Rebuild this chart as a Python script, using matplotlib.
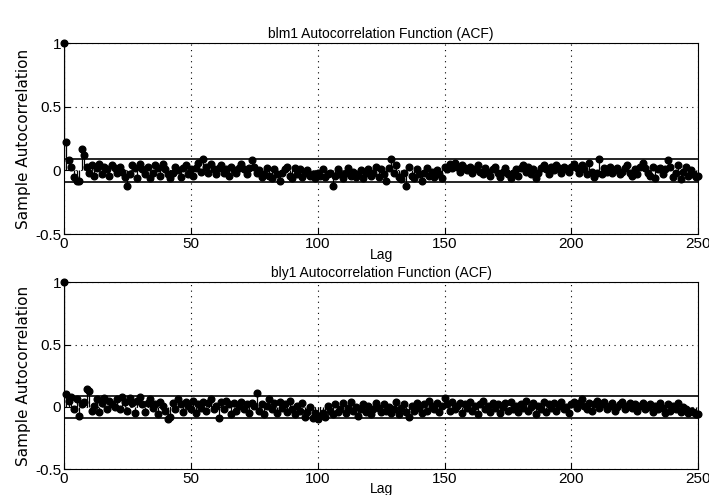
import matplotlib
matplotlib.use("Agg")
import numpy as np
from matplotlib import pyplot as plt

# ACF values, lag 0..250
blm1_acf = [
    1, 0.22, 0.08, 0.03, -0.05, -0.08, -0.08, 0.17, 0.12, 0.03,
    -0.02, 0.04, -0.04, 0.02, 0.05, -0.03, 0.03, 0.01, -0.04, 0.04,
    0.02, -0.02, 0.03, -0.01, -0.05, -0.12, -0.03, 0.04, 0.02, -0.06,
    0.05, 0.01, -0.03, 0.03, -0.06, -0.02, 0.04, 0.02, -0.04, 0.05,
    0.01, -0.03, -0.06, -0.02, 0.03, 0.0, -0.05, 0.02, 0.04, -0.03,
    0.01, -0.04, 0.02, 0.06, -0.01, 0.09, 0.03, -0.02, 0.05, 0.01,
    -0.03, 0.02, 0.04, -0.02, 0.01, -0.04, 0.03, 0.0, -0.02, 0.02,
    0.05, 0.01, -0.03, 0.02, 0.08, 0.03, -0.02, 0.0, -0.05, -0.03,
    0.02, -0.04, -0.06, 0.01, -0.03, -0.08, -0.02, 0.01, 0.03, -0.04,
    -0.06, 0.02, -0.03, 0.01, -0.05, -0.02, 0.0, -0.04, -0.03, -0.06,
    -0.02, -0.04, 0.01, -0.05, -0.03, -0.02, -0.12, -0.04, 0.01, -0.03,
    -0.06, -0.02, 0.02, -0.04, -0.01, -0.05, -0.03, 0.0, -0.06, -0.02,
    0.01, -0.04, -0.02, 0.03, -0.05, 0.01, -0.03, -0.08, 0.02, 0.09,
    -0.02, 0.04, -0.05, -0.07, -0.02, -0.12, 0.03, -0.04, -0.06, 0.01,
    -0.03, -0.08, -0.02, 0.02, -0.04, -0.01, -0.05, 0.0, -0.03, -0.06,
    0.03, 0.01, 0.05, 0.02, 0.06, 0.03, -0.01, 0.04, 0.02, 0.0,
    0.03, -0.02, 0.01, 0.04, -0.01, -0.03, 0.02, -0.01, -0.04, 0.01,
    0.03, -0.02, -0.05, -0.01, 0.02, -0.03, -0.06, -0.02, 0.01, -0.04,
    0.02, 0.04, -0.01, 0.03, -0.03, 0.01, -0.06, -0.02, 0.02, 0.04,
    0.01, -0.03, 0.03, 0.0, 0.04, 0.02, -0.02, 0.03, 0.01, -0.01,
    0.03, 0.05, 0.02, -0.02, 0.04, 0.01, -0.03, 0.06, -0.01, -0.05,
    -0.02, 0.09, -0.03, 0.02, -0.01, 0.03, -0.02, 0.0, 0.02, -0.03,
    -0.01, 0.02, 0.04, -0.02, -0.04, 0.01, -0.03, 0.03, 0.06, 0.02,
    -0.02, -0.04, 0.03, -0.06, 0.01, 0.02, -0.03, 0.01, 0.08, 0.03,
    -0.05, -0.02, 0.04, -0.07, -0.01, 0.03, -0.04, 0.0, -0.03, -0.05,
    -0.04,
]

bly1_acf = [
    1, 0.1, 0.05, 0.08, -0.02, 0.06, -0.07, 0.02, 0.04, 0.14,
    0.13, -0.03, 0.01, 0.06, -0.04, 0.03, 0.07, -0.02, 0.05, 0.02,
    0.0, 0.06, -0.02, 0.08, 0.04, -0.03, 0.07, 0.03, -0.05, 0.05,
    0.08, 0.02, -0.04, 0.03, 0.06, -0.01, 0.02, -0.06, 0.04, 0.01,
    -0.03, -0.1, -0.08, 0.03, -0.02, 0.06, 0.02, -0.04, 0.04, 0.01,
    -0.02, 0.05, -0.05, 0.02, -0.01, 0.04, -0.03, 0.03, 0.06, -0.02,
    0.01, -0.09, 0.04, -0.02, 0.05, 0.02, -0.06, 0.03, -0.03, 0.01,
    0.04, -0.02, 0.02, -0.05, 0.03, 0.01, 0.11, -0.03, 0.02, -0.06,
    0.01, 0.06, -0.02, 0.03, -0.05, 0.04, -0.01, 0.02, -0.04, 0.05,
    -0.02, -0.06, 0.01, -0.03, 0.03, -0.08, -0.04, 0.0, -0.09, -0.05,
    -0.1, -0.07, -0.05, -0.08, 0.01, -0.03, -0.06, 0.02, -0.04, -0.02,
    0.03, -0.05, -0.01, 0.04, -0.03, 0.0, -0.07, -0.02, 0.02, -0.04,
    0.01, -0.06, -0.02, 0.03, -0.01, -0.04, 0.02, -0.03, 0.0, -0.05,
    -0.02, 0.04, -0.06, -0.01, 0.02, -0.04, -0.08, 0.01, -0.03, 0.03,
    -0.01, -0.05, 0.02, -0.03, 0.05, 0.01, -0.02, 0.03, -0.04, 0.01,
    0.07, 0.02, -0.03, 0.04, -0.02, 0.01, 0.03, -0.05, 0.02, -0.01,
    0.04, -0.03, 0.01, -0.06, 0.02, 0.05, -0.02, 0.01, -0.04, 0.03,
    -0.01, 0.02, -0.05, 0.0, 0.03, -0.03, 0.04, -0.02, 0.01, -0.04,
    0.02, -0.01, 0.05, -0.03, 0.0, 0.03, -0.06, 0.01, -0.02, 0.04,
    -0.04, 0.02, -0.01, 0.03, -0.03, 0.01, 0.04, -0.02, 0.0, -0.05,
    0.02, 0.04, -0.01, 0.03, 0.06, 0.01, -0.02, 0.03, -0.03, 0.02,
    0.05, -0.01, 0.02, 0.04, -0.02, 0.01, 0.03, -0.03, 0.0, 0.02,
    0.04, -0.02, 0.01, 0.03, -0.01, 0.02, -0.03, 0.01, 0.03, -0.02,
    0.0, 0.02, -0.04, 0.01, -0.02, 0.03, -0.01, -0.05, 0.02, -0.03,
    0.01, -0.02, 0.03, -0.04, 0.0, -0.02, -0.05, -0.03, -0.04, -0.06,
    -0.06,
]

titles = ["blm1 Autocorrelation Function (ACF)", "bly1 Autocorrelation Function (ACF)"]
bound = 0.09

narrow = ["Liberation Sans Narrow", "Liberation Sans", "DejaVu Sans"]

fig = plt.figure(figsize=(7.09, 4.95), dpi=100)
ax_top = fig.add_axes([0.090, 0.527, 0.895, 0.386])
ax_bot = fig.add_axes([0.090, 0.052, 0.895, 0.378])

for i, (ax, acf, title) in enumerate(zip([ax_top, ax_bot], [blm1_acf, bly1_acf], titles)):
    lags = np.arange(len(acf))
    vals = np.array(acf)
    ax.vlines(lags, 0, vals, color="k", lw=0.9)
    ax.plot(lags, vals, "o", color="k", ms=4.8, clip_on=False, zorder=3)
    ax.axhline(bound, color="k", lw=1.2)
    ax.axhline(-bound, color="k", lw=1.2)
    ax.set_xlim(0, 250)
    ax.set_ylim(-0.5, 1)
    ax.set_xticks([0, 50, 100, 150, 200, 250])
    ax.set_yticks([-0.5, 0, 0.5, 1])
    ax.set_yticklabels(["-0.5", "0", "0.5", "1"])
    ax.grid(True, color="k", linestyle=(0, (1, 4)), lw=0.8)
    ax.tick_params(direction="in", length=4, labelsize=11, pad=2)
    for lab in ax.get_xticklabels() + ax.get_yticklabels():
        lab.set_family(narrow)
    for s in ax.spines.values():
        s.set_linewidth(0.8)
    ax.set_title(title, fontsize=10, family=narrow, pad=4)
    ax.set_xlabel("Lag", fontsize=10, family=narrow, labelpad=-2 if i == 0 else -3)
    ax.set_ylabel("Sample Autocorrelation", fontsize=11, labelpad=3)

fig.savefig("out.png", dpi=100)
